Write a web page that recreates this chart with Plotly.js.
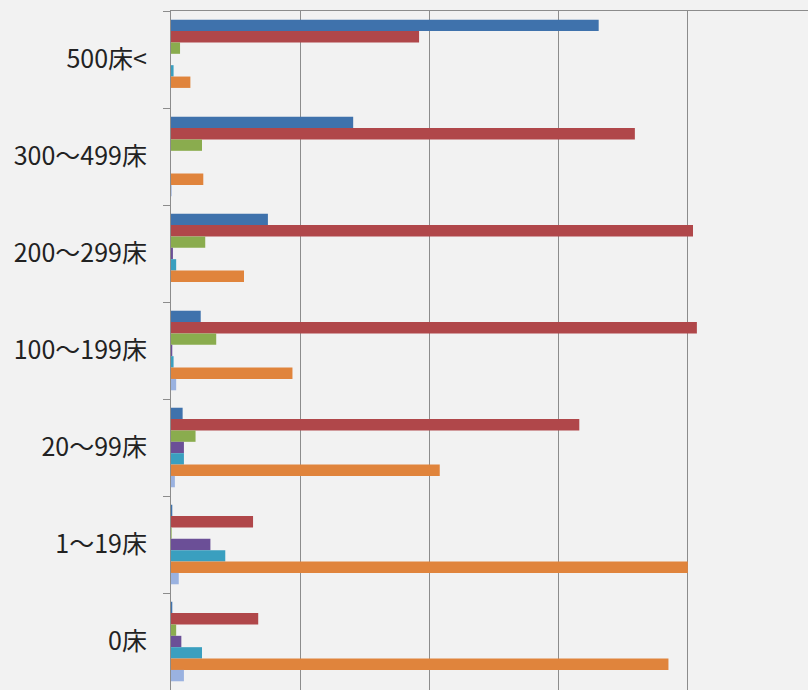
<!DOCTYPE html>
<html>
<head>
<meta charset="utf-8">
<script src="https://cdn.plot.ly/plotly-3.0.1.min.js"></script>
<style>html,body{margin:0;padding:0;background:#f2f2f2;}#chart{width:808px;height:690px;}</style>
</head>
<body>
<div id="chart"></div>
<script>
var categories = ["500床<", "300〜499床", "200〜299床", "100〜199床", "20〜99床", "1〜19床", "0床"];
var seriesNames = ["系列1", "系列2", "系列3", "系列4", "系列5", "系列6", "系列7"];
var series1 = [33.1, 14.1, 7.5, 2.3, 0.9, 0.1, 0.1];
var series2 = [19.2, 35.9, 40.4, 40.7, 31.6, 6.35, 6.75];
var series3 = [0.7, 2.4, 2.65, 3.5, 1.9, 0.05, 0.4];
var series4 = [0, 0, 0.15, 0.1, 1.0, 3.05, 0.8];
var series5 = [0.2, 0, 0.4, 0.2, 1.0, 4.2, 2.4];
var series6 = [1.5, 2.5, 5.65, 9.4, 20.8, 40.0, 38.5];
var series7 = [0, 0.05, 0, 0.4, 0.3, 0.6, 1.0];

var allSeries = [series1, series2, series3, series4, series5, series6, series7];
var colors = ["#3f72ac", "#b0474a", "#8aac4e", "#6b4f97", "#3a9fbf", "#e0843c", "#9ab2e0"];

var traces = allSeries.map(function (vals, i) {
  return {
    type: "bar",
    orientation: "h",
    name: seriesNames[i],
    y: categories,
    x: vals,
    marker: { color: colors[i] }
  };
});

var layout = {
  width: 808,
  height: 690,
  margin: { l: 171, r: 0, t: 11, b: 0, pad: 0 },
  paper_bgcolor: "#f2f2f2",
  plot_bgcolor: "#f2f2f2",
  showlegend: false,
  barmode: "group",
  bargap: 0.18,
  bargroupgap: 0,
  xaxis: {
    side: "top",
    range: [0, 49.3],
    dtick: 10,
    showgrid: true,
    gridcolor: "#8c8c8c",
    gridwidth: 1,
    zeroline: false,
    showline: true,
    linecolor: "#8c8c8c",
    linewidth: 1,
    showticklabels: false,
    ticks: ""
  },
  yaxis: {
    type: "category",
    autorange: "reversed",
    showgrid: false,
    zeroline: false,
    showline: true,
    linecolor: "#8c8c8c",
    linewidth: 1,
    ticks: "outside",
    tickson: "boundaries",
    ticklen: 7,
    tickcolor: "#8c8c8c",
    ticklabelstandoff: 18,
    tickfont: { family: "Noto Sans CJK JP", size: 25, color: "#222222" }
  }
};

Plotly.newPlot("chart", traces, layout, { displayModeBar: false, staticPlot: true });
</script>
</body>
</html>
